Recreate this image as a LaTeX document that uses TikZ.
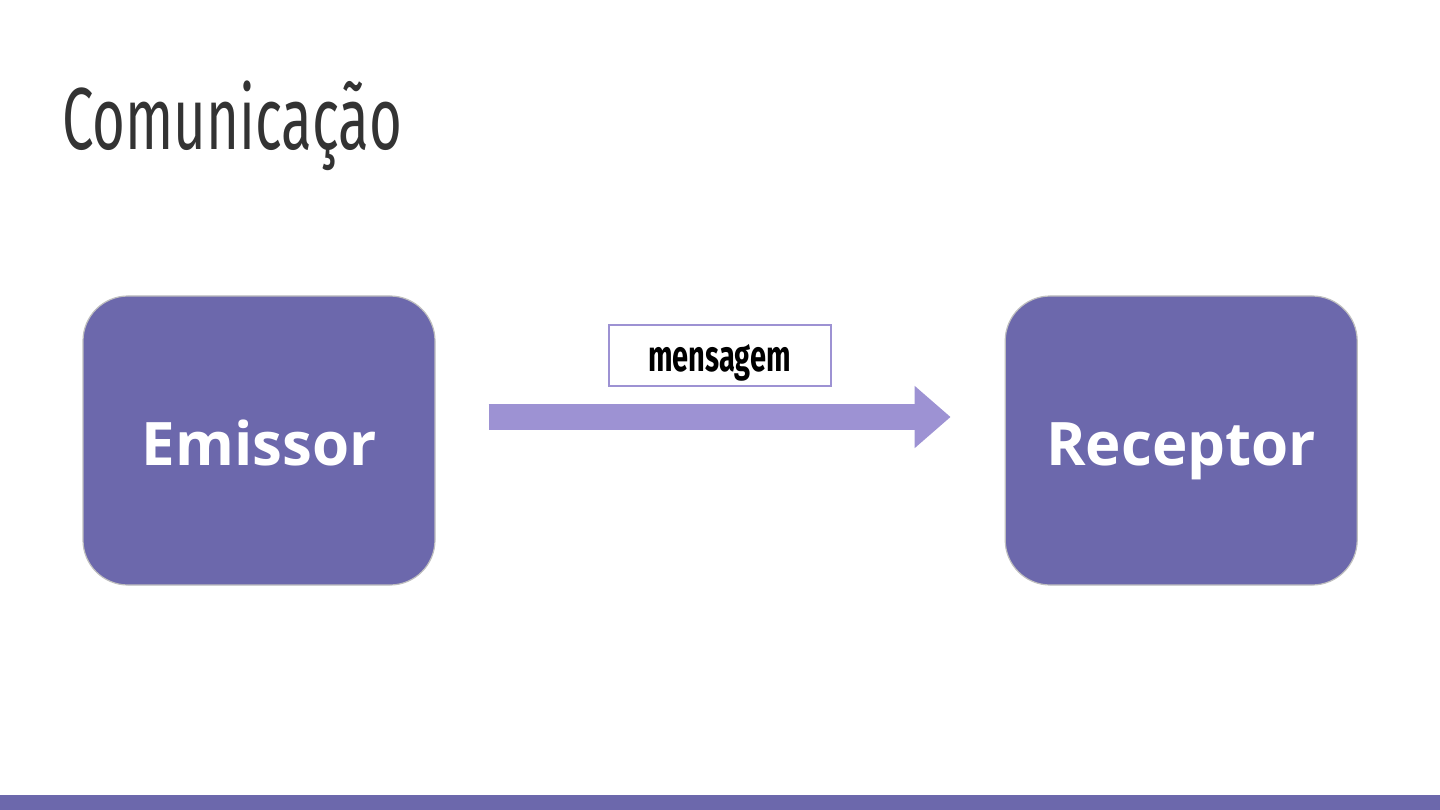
\documentclass[tikz,border=0pt]{standalone}
\usepackage{fontspec}
\setmainfont{Open Sans}
\newfontfamily\titlefont[FakeStretch=0.64]{Fira Sans}
\newfontfamily\tagfont[FakeStretch=0.66]{Fira Sans}
\usetikzlibrary{arrows.meta, positioning, calc}
\definecolor{boxpurple}{HTML}{6C68AC}
\definecolor{arrowpurple}{HTML}{9D92D3}
\definecolor{titlegray}{HTML}{333333}

\begin{document}
\begin{tikzpicture}[x=1pt,y=-1pt,node distance=569pt,box/.style={rectangle, rounded corners=45pt, draw=black!25, line width=1.2pt, fill=boxpurple, minimum width=352pt, minimum height=289pt, align=center, text=white, text height=52pt, text depth=3pt, font=\fontsize{60}{62}\selectfont\bfseries},arrow/.style={-{Triangle[length=36pt, width=60pt]}, line width=26pt, draw=arrowpurple},tag/.style={rectangle, draw=arrowpurple, line width=2pt, fill=white, minimum width=222pt, minimum height=61pt, text height=34pt, text depth=3pt, font=\tagfont\fontsize{44}{46}\selectfont\bfseries}]
\useasboundingbox (0,0) rectangle (1440,810);
\node[anchor=base west, text=titlegray, font=\titlefont\fontsize{88}{90}\selectfont, inner sep=0pt] (title) at (62,150) {Comunicação};
\node[box] (emissor) at (259,440.5) {Emissor};
\node[box, right=of emissor] (receptor) {Receptor};
\draw[arrow] ([xshift=53pt, yshift=23.5pt]emissor.east) -- node[above=30pt, tag, inner sep=0pt] (msg) {mensagem} ([xshift=-54pt, yshift=23.5pt]receptor.west);
\fill[boxpurple] (0,795) rectangle (1440,810);
\end{tikzpicture}
\end{document}
